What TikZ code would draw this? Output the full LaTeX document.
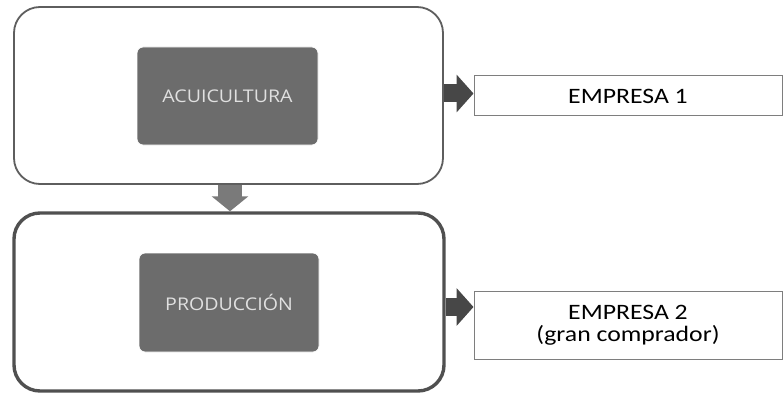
\documentclass[tikz,border=0pt]{standalone}
\usepackage{fontspec}
\setmainfont{Carlito}[FakeStretch=1.17]
\newfontfamily\boxfont{Open Sans}[FakeStretch=1.12]
\usetikzlibrary{arrows.meta}

\definecolor{framegray}{HTML}{5E5E5E}
\definecolor{blockgray}{HTML}{6C6C6C}
\definecolor{arrowdark}{HTML}{474747}
\definecolor{arrowlight}{HTML}{7A7A7A}

\tikzset{
	outerbox/.style={draw=framegray, rounded corners=26pt, minimum width=429pt, minimum height=177pt},
	blockbox/.style={fill=blockgray, draw=white, line width=0.8pt, rounded corners=6pt, minimum width=181pt, minimum height=98pt, text=white!88!black, font=\boxfont\fontsize{17.5}{20}\selectfont},
	empbox/.style={draw=framegray!80, line width=1pt, minimum width=308pt, align=center, font=\fontsize{22}{22}\selectfont},
	fatarrow/.style={line width=18pt, draw=arrowdark, -{Triangle[width=37pt,length=17pt]}},
}

\begin{document}
\begin{tikzpicture}[x=1pt, y=-1pt]
	\useasboundingbox (0,0) rectangle (784,393);
	\node[outerbox, line width=1.8pt] (cult) at (228.5,95.5) {};
	\node[outerbox, line width=3.4pt, draw=framegray!85!black, minimum width=430pt, minimum height=178pt] (prod) at (229,302) {};
	\node[blockbox] (acui) at (227.5,96) {ACUICULTURA};
	\node[blockbox, minimum width=180pt, minimum height=99pt] (prodb) at (229,302.5) {PRODUCCIÓN};
	\node[empbox, minimum height=40pt] (emp1) at (628,96) {EMPRESA 1};
	\node[empbox, minimum height=68pt] (emp2) at (628,325) {EMPRESA 2\\(gran comprador)};
	% flechas
	\draw[fatarrow] ([yshift=2pt]cult.east) -- ([yshift=2pt]cult.east -| emp1.west);
	\draw[fatarrow] ([yshift=-5pt]prod.east) -- ([yshift=-5pt]prod.east -| emp2.west);
	\draw[fatarrow, draw=arrowlight, line width=24pt, -{Triangle[width=36pt,length=15pt]}] ([xshift=1.5pt]cult.south) -- ([xshift=1.5pt]cult.south |- prod.north);
\end{tikzpicture}
\end{document}
